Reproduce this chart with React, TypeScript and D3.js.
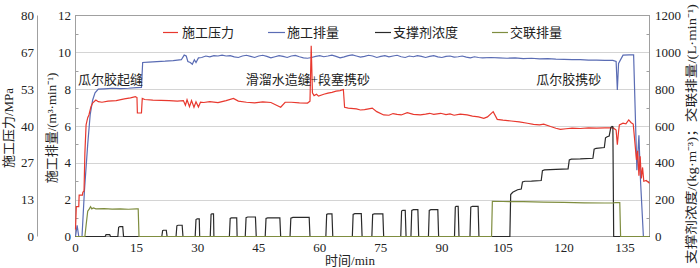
import React, { useEffect } from "react";
import * as d3 from "d3";

// ---------- data ----------
const timeTicks = [0, 15, 30, 45, 60, 75, 90, 105, 120, 135];
const flowTicks = [0, 2, 4, 6, 8, 10, 12];
const flowMinorTicks = [1, 3, 5, 7, 9, 11];
const pressureTickValues = [0, 13.333, 26.667, 40, 53.333, 66.667, 80];
const pressureTickLabels = ["0", "13", "27", "40", "53", "67", "80"];
const rightTicks = [0, 200, 400, 600, 800, 1000, 1200];
const rightMinorTicks = [100, 300, 500, 700, 900, 1100];

const legendLabels = ["施工压力", "施工排量", "支撑剂浓度", "交联排量"];
const stageLabels = ["瓜尔胶起缝", "滑溜水造缝+段塞携砂", "瓜尔胶携砂"];
const stageTimes = [0.6, 41.8, 113.2];

// 施工压力 / MPa  [time min, value]
const pressureData: [number, number][] = [
  [0, 2.5], [0.2, 10.8], [0.8, 10.8], [0.9, 15], [1.7, 15], [1.8, 16], [2.1, 16.5], [2.3, 30], [2.6, 40.4],
  [3.0, 43], [3.3, 44], [3.8, 47], [4.2, 48.3], [5.0, 49.4], [5.6, 48.8], [6.5, 48.6], [8, 49], [10, 49.2],
  [12, 49.8], [13.5, 50.2], [14.7, 50.6], [15.1, 50.3], [15.2, 44.7], [16.2, 44.7], [16.4, 50], [17, 49.6],
  [19, 49.4], [21, 49.3], [23, 49.2], [25, 49.0], [26.5, 49.2], [27, 47.5], [27.4, 49.5], [28, 47], [28.5, 49.2],
  [29.1, 46.8], [29.6, 48.8], [30.2, 46.9], [30.7, 48.6], [31.5, 48.5], [33, 48.8], [35, 48.5], [37, 49.2],
  [38.8, 50], [40, 49], [42, 48.6], [44, 48.4], [46, 48.7], [48, 48.5], [50.4, 46.8], [51.5, 48.6], [53, 48.6],
  [55, 48.4], [57, 48.3], [57.6, 49], [57.9, 69], [58.2, 52], [58.6, 51], [59.2, 51.5], [59.7, 50.8], [61, 51.5],
  [62, 51.9], [63, 52.2], [64, 52.6], [65, 52.8], [65.8, 53.2], [66.1, 46.8], [67, 46.5], [69, 46.2], [70, 45.8],
  [71, 45.9], [72, 46.2], [72.9, 46.5], [74, 45.2], [75.7, 44], [77, 43.9], [78, 44.5], [79, 44.2], [80, 44.0],
  [81.5, 44.8], [83, 44.2], [84.7, 44], [86, 44.3], [87, 44.6], [88, 44.2], [89.7, 44.6], [91, 44.1], [92, 44.4],
  [93, 43.9], [94.5, 44.3], [96.2, 44], [97.5, 43.6], [99, 43.3], [100.3, 42.8], [101.2, 43.3], [102.6, 45.2],
  [103.6, 42.4], [105, 42.1], [107, 41.8], [109, 41.5], [111, 41], [112.5, 40.6], [114, 40.4], [115, 40.7],
  [116.7, 39.8], [118, 39.2], [119.1, 38.8], [120.5, 39.0], [122, 39.2], [124, 39.1], [126, 39.3], [128, 39.2],
  [130, 39.3], [132.1, 39.3], [132.8, 38.5], [133.1, 33.2], [133.4, 38], [133.6, 40.4], [134.5, 41],
  [135.2, 40.8], [135.9, 42.2], [136.5, 41.2], [137, 40.7], [137.8, 27.7], [138.1, 31], [138.4, 22], [138.7, 29],
  [139, 21], [139.3, 25], [139.6, 20], [140.2, 20.3], [141, 19.3],
];

// 施工排量 / (m³·min⁻¹)
const flowData: [number, number][] = [
  [0, 0], [0.4, 0.6], [0.8, 0], [1.6, 0], [2.2, 2.5], [3.0, 5.0], [3.6, 6.6], [4.2, 7.4], [4.8, 7.8], [5.6, 8.0],
  [7, 8.02], [9, 8.05], [11, 8.03], [13, 8.05], [15, 8.08], [16.2, 8.1], [16.5, 9.45], [18, 9.47], [20, 9.5],
  [22, 9.52], [24, 9.55], [26, 9.6], [26.7, 9.85], [27.2, 9.8], [27.6, 9.5], [28.2, 9.45], [28.7, 9.35],
  [29.2, 9.6], [29.6, 9.45], [30.2, 9.7], [31, 9.72], [32, 9.8], [33, 9.75], [34, 9.82], [35, 9.8], [36, 9.85],
  [37, 9.8], [38, 9.82], [39, 9.75], [40, 9.72], [41, 9.8], [42, 9.84], [43, 9.78], [44, 9.72], [45, 9.8],
  [46, 9.84], [47, 9.78], [48, 9.7], [49, 9.76], [50, 9.82], [51, 9.78], [52, 9.72], [53, 9.8], [54, 9.83],
  [55, 9.76], [56, 9.7], [57, 9.68], [58, 9.72], [59, 9.78], [60, 9.82], [61, 9.76], [62, 9.8], [63, 9.85],
  [64, 9.78], [65, 9.7], [66, 9.75], [67, 9.82], [68, 9.86], [69, 9.8], [70, 9.74], [71, 9.78], [72, 9.84],
  [73, 9.8], [74, 9.72], [75, 9.78], [76, 9.82], [77, 9.75], [78, 9.8], [79, 9.84], [80, 9.76], [81, 9.72],
  [82, 9.8], [83, 9.76], [84, 9.82], [85, 9.78], [86, 9.72], [87, 9.78], [88, 9.82], [89, 9.75], [90, 9.72],
  [91, 9.78], [92, 9.8], [93, 9.74], [94, 9.76], [95, 9.8], [96, 9.74], [97, 9.7], [98, 9.76], [99, 9.72],
  [100, 9.7], [102, 9.72], [104, 9.7], [106, 9.68], [108, 9.7], [110, 9.66], [112, 9.68], [114, 9.65],
  [116, 9.66], [118, 9.63], [120, 9.62], [122, 9.6], [124, 9.6], [126, 9.58], [128, 9.58], [130, 9.56],
  [132, 9.56], [132.8, 9.5], [133.1, 7.95], [133.4, 9.4], [134.5, 9.85], [136, 9.86], [137.1, 9.86],
  [137.9, 3.6], [138.4, 5.5], [138.8, 3.0], [139.5, 0], [141, 0],
];

// 支撑剂浓度 / (kg·m⁻³)
const proppantData: [number, number][] = [
  [0, 0], [7.3, 0], [7.5, 10], [8.4, 10], [8.6, 0],
  [10.4, 0], [10.6, 50], [10.9, 54], [11.6, 54], [11.8, 0],
  [21.2, 0], [21.4, 32], [21.6, 34], [22.3, 34], [22.5, 0],
  [24.7, 0], [24.9, 58], [25.2, 61], [26.2, 61], [26.4, 0],
  [29.4, 0], [29.6, 92], [29.9, 96], [30.4, 96], [30.5, 0],
  [33.1, 0], [33.3, 120], [33.5, 123], [33.9, 123], [34.0, 0],
  [37.8, 0], [38.0, 98], [38.3, 101], [39.6, 101], [39.7, 0],
  [41.7, 0], [41.9, 102], [42.3, 106], [44.2, 106], [44.4, 0],
  [46.6, 0], [46.8, 98], [47.2, 101], [50.2, 101], [50.4, 0],
  [52.7, 0], [52.9, 100], [53.4, 104], [57.4, 104], [57.6, 0],
  [61.5, 0], [61.7, 120], [62.0, 123], [63.0, 123], [63.2, 0],
  [68.0, 0], [68.2, 120], [68.6, 124], [70.2, 124], [70.4, 0],
  [72.8, 0], [73.0, 120], [73.4, 123], [75.5, 123], [75.7, 0],
  [79.9, 0], [80.1, 138], [80.4, 142], [81.0, 142], [81.2, 0],
  [82.4, 0], [82.6, 142], [83.0, 146], [84.1, 146], [84.3, 0],
  [86.7, 0], [86.9, 142], [87.3, 146], [89.0, 146], [89.2, 0],
  [93.1, 0], [93.3, 160], [93.5, 164], [94.0, 164], [94.2, 0],
  [96.9, 0], [97.1, 160], [97.5, 164], [98.9, 164], [99.1, 0],
  [106.7, 0], [106.9, 228], [107.4, 240], [108.6, 254], [109.5, 258], [109.8, 296], [110.4, 300],
  [112, 301], [114.4, 304], [114.7, 358], [115.2, 362], [118, 364], [121, 367], [121.3, 416], [121.8, 420],
  [124, 421], [127.1, 425], [127.4, 474], [127.9, 479], [129.9, 483], [130.2, 536], [130.6, 542],
  [131.1, 546], [131.5, 592], [131.8, 598], [132.0, 596], [132.2, 0], [141, 0],
];

// 交联排量 / (L·min⁻¹)
const crosslinkData: [number, number][] = [
  [0, 0], [2.3, 0], [2.6, 60], [3.0, 137], [3.4, 150], [3.7, 162], [4.0, 150], [4.4, 155], [5, 150],
  [7, 151], [9, 149], [11, 150], [13, 148], [15, 150], [15.4, 150], [15.6, 0], [102.2, 0], [102.4, 191],
  [105, 190], [110, 189], [115, 187], [120, 185], [125, 183], [130, 182], [132.2, 182], [132.5, 184],
  [133.7, 184], [133.9, 0], [141, 0],
];

// ---------- styles ----------
const C_RED = "#e8382e";
const C_BLUE = "#5a6cb4";
const C_BLACK = "#2a2a2a";
const C_OLIVE = "#7f8d3f";
const FONT = "'Liberation Serif', 'Noto Sans CJK SC', serif";
const TXT = "#222";

const X0 = 75.5, X1 = 649.5, Y0 = 15.5, Y1 = 236.5;

export default function App() {
  useEffect(() => {
    document.body.style.margin = "0";
  }, []);

  const x = d3.scaleLinear().domain([0, 141]).range([X0, X1]);
  const yFlow = d3.scaleLinear().domain([0, 12]).range([Y1, Y0]);
  const yP = d3.scaleLinear().domain([0, 80]).range([Y1, Y0]);
  const yR = d3.scaleLinear().domain([0, 1200]).range([Y1, Y0]);

  const mk = (ys: d3.ScaleLinear<number, number>) =>
    d3.line<[number, number]>().x((d) => x(d[0])).y((d) => ys(d[1]));

  const legendLines = [
    { x1: 163, x2: 178, tx: 182, color: C_RED },
    { x1: 268, x2: 285, tx: 287, color: C_BLUE },
    { x1: 375, x2: 391, tx: 393, color: C_BLACK },
    { x1: 492, x2: 508, tx: 510, color: C_OLIVE },
  ];

  return (
    <svg
      width={700}
      height={268}
      style={{ position: "absolute", left: 0, top: 0, background: "#fff" }}
      fontFamily={FONT}
    >
      <rect x={0} y={0} width={700} height={268} fill="#fff" />
      {/* gridlines */}
      {flowTicks.slice(1, -1).map((v) => (
        <line key={"g" + v} x1={X0} x2={X1} y1={Math.round(yFlow(v)) + 0.5} y2={Math.round(yFlow(v)) + 0.5} stroke="#d4d4d4" strokeWidth={1} />
      ))}
      {/* frame */}
      <rect x={X0} y={Y0} width={X1 - X0} height={Y1 - Y0} fill="none" stroke="#a0a0a0" strokeWidth={1} />
      {/* pressure axis */}
      <line x1={37.5} x2={37.5} y1={Y0} y2={Y1} stroke="#a0a0a0" />
      {pressureTickValues.map((v, i) => (
        <text key={"p" + i} x={34} y={yP(v)} dy="0.35em" textAnchor="end" fontSize={13} fill={TXT}>
          {pressureTickLabels[i]}
        </text>
      ))}
      {/* flow axis */}
      {flowTicks.map((v) => (
        <text key={"f" + v} x={71} y={yFlow(v)} dy="0.35em" textAnchor="end" fontSize={13} fill={TXT}>
          {v}
        </text>
      ))}
      {flowMinorTicks.map((v) => (
        <line key={"fm" + v} x1={X0} x2={X0 + 3} y1={Math.round(yFlow(v)) + 0.5} y2={Math.round(yFlow(v)) + 0.5} stroke="#a0a0a0" />
      ))}
      {/* right axis */}
      {rightTicks.map((v) => (
        <text key={"r" + v} x={655} y={yR(v)} dy="0.35em" textAnchor="start" fontSize={13} fill={TXT}>
          {v}
        </text>
      ))}
      {rightMinorTicks.map((v) => (
        <line key={"rm" + v} x1={X1 - 3} x2={X1} y1={Math.round(yR(v)) + 0.5} y2={Math.round(yR(v)) + 0.5} stroke="#a0a0a0" />
      ))}
      {/* x axis */}
      {timeTicks.map((t) => (
        <text key={"t" + t} x={x(t)} y={252} textAnchor="middle" fontSize={13} fill={TXT}>
          {t}
        </text>
      ))}
      <text x={350} y={265} textAnchor="middle" fontSize={13} fill={TXT}>时间/min</text>

      {/* axis titles */}
      <text transform="translate(8,128) rotate(-90)" textAnchor="middle" dy="0.35em" fontSize={13} fill={TXT}>
        施工压力/MPa
      </text>
      <text transform="translate(51,128) rotate(-90)" textAnchor="middle" dy="0.35em" fontSize={13} fill={TXT}>
        施工排量/(m³·min⁻¹)
      </text>
      <text
        transform="translate(692,134) rotate(-90)"
        textAnchor="middle"
        dy="0.35em"
        fontSize={12.5}
        fill={TXT}
        textLength={260}
        lengthAdjust="spacingAndGlyphs"
      >
        支撑剂浓度/(kg·m⁻³)；交联排量/(L·min⁻¹)
      </text>

      {/* series */}
      <path d={mk(yFlow)(flowData) || ""} fill="none" stroke={C_BLUE} strokeWidth={1.2} />
      <path d={mk(yP)(pressureData) || ""} fill="none" stroke={C_RED} strokeWidth={1.2} />
      <path d={mk(yR)(proppantData) || ""} fill="none" stroke={C_BLACK} strokeWidth={1.2} />
      <path d={mk(yR)(crosslinkData) || ""} fill="none" stroke={C_OLIVE} strokeWidth={1.2} />

      {/* stage labels */}
      {stageLabels.map((s, i) => (
        <text key={"s" + i} x={x(stageTimes[i])} y={84} fontSize={13} fill={TXT}>
          {s}
        </text>
      ))}

      {/* legend */}
      {legendLines.map((l, i) => (
        <g key={"l" + i}>
          <line x1={l.x1} x2={l.x2} y1={32.5} y2={32.5} stroke={l.color} strokeWidth={1.2} />
          <text x={l.tx} y={37} fontSize={13} fill={TXT}>
            {legendLabels[i]}
          </text>
        </g>
      ))}
    </svg>
  );
}
